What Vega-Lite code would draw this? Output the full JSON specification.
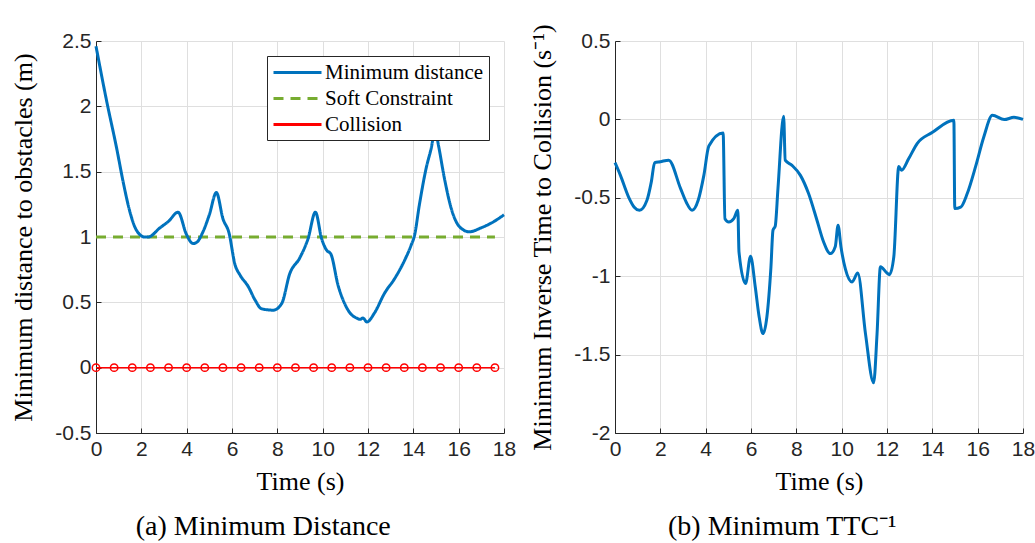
{
  "$schema": "https://vega.github.io/schema/vega-lite/v6.json",
  "background": "white",
  "padding": {"left": 10, "top": 23, "right": 5, "bottom": 0},
  "spacing": 13,
  "resolve": {"legend": {"color": "independent", "strokeDash": "independent"}, "scale": {"color": "independent", "strokeDash": "independent"}},
  "config": {
    "view": {"stroke": null},
    "axis": {
      "domainColor": "#262626",
      "domainWidth": 1,
      "tickColor": "#262626",
      "tickSize": -5,
      "gridColor": "#dfdfdf",
      "gridWidth": 1,
      "labelFont": "Liberation Sans",
      "labelFontSize": 21,
      "labelColor": "#262626",
      "labelPadding": 10,
      "labelFlush": false,
      "labelOverlap": false,
      "titleFont": "Liberation Serif",
      "titleFontSize": 26,
      "titleFontWeight": "normal",
      "titleColor": "#000000",
      "titlePadding": 18
    },
    "axisX": {"titlePadding": 9},
    "legend": {
      "orient": "top-right",
      "offset": 15,
      "fillColor": "white",
      "strokeColor": "#262626",
      "padding": 5,
      "labelFont": "Liberation Serif",
      "labelFontSize": 21,
      "labelColor": "#000000",
      "labelLimit": 400,
      "labelOffset": 16,
      "symbolType": "M-2.4,0H2.4",
      "symbolSize": 400,
      "symbolOffset": 14,
      "symbolStrokeWidth": 3,
      "rowPadding": 4,
      "title": null
    },
    "title": {
      "font": "Liberation Serif",
      "fontSize": 28,
      "fontWeight": "normal",
      "color": "#000000"
    }
  },
  "datasets": {
    "dist": [
      {"t": 0, "v": 2.46, "series": "Minimum distance"},
      {"t": 0.47, "v": 2.04, "series": "Minimum distance"},
      {"t": 0.91, "v": 1.68, "series": "Minimum distance"},
      {"t": 1.2, "v": 1.42, "series": "Minimum distance"},
      {"t": 1.5, "v": 1.19, "series": "Minimum distance"},
      {"t": 1.79, "v": 1.05, "series": "Minimum distance"},
      {"t": 2.15, "v": 1.0, "series": "Minimum distance"},
      {"t": 2.3, "v": 1.0, "series": "Minimum distance"},
      {"t": 2.82, "v": 1.07, "series": "Minimum distance"},
      {"t": 3.2, "v": 1.12, "series": "Minimum distance"},
      {"t": 3.62, "v": 1.19, "series": "Minimum distance"},
      {"t": 3.99, "v": 1.02, "series": "Minimum distance"},
      {"t": 4.28, "v": 0.95, "series": "Minimum distance"},
      {"t": 4.45, "v": 0.96, "series": "Minimum distance"},
      {"t": 4.72, "v": 1.04, "series": "Minimum distance"},
      {"t": 5.0, "v": 1.17, "series": "Minimum distance"},
      {"t": 5.31, "v": 1.34, "series": "Minimum distance"},
      {"t": 5.6, "v": 1.14, "series": "Minimum distance"},
      {"t": 5.87, "v": 1.03, "series": "Minimum distance"},
      {"t": 6.13, "v": 0.79, "series": "Minimum distance"},
      {"t": 6.35, "v": 0.71, "series": "Minimum distance"},
      {"t": 6.72, "v": 0.62, "series": "Minimum distance"},
      {"t": 7.01, "v": 0.52, "series": "Minimum distance"},
      {"t": 7.31, "v": 0.45, "series": "Minimum distance"},
      {"t": 7.82, "v": 0.44, "series": "Minimum distance"},
      {"t": 8.19, "v": 0.49, "series": "Minimum distance"},
      {"t": 8.55, "v": 0.72, "series": "Minimum distance"},
      {"t": 8.99, "v": 0.84, "series": "Minimum distance"},
      {"t": 9.36, "v": 0.99, "series": "Minimum distance"},
      {"t": 9.68, "v": 1.19, "series": "Minimum distance"},
      {"t": 9.95, "v": 0.99, "series": "Minimum distance"},
      {"t": 10.17, "v": 0.9, "series": "Minimum distance"},
      {"t": 10.36, "v": 0.87, "series": "Minimum distance"},
      {"t": 10.68, "v": 0.63, "series": "Minimum distance"},
      {"t": 10.97, "v": 0.49, "series": "Minimum distance"},
      {"t": 11.2, "v": 0.42, "series": "Minimum distance"},
      {"t": 11.49, "v": 0.38, "series": "Minimum distance"},
      {"t": 11.65, "v": 0.37, "series": "Minimum distance"},
      {"t": 11.78, "v": 0.38, "series": "Minimum distance"},
      {"t": 11.95, "v": 0.35, "series": "Minimum distance"},
      {"t": 12.29, "v": 0.42, "series": "Minimum distance"},
      {"t": 12.73, "v": 0.57, "series": "Minimum distance"},
      {"t": 13.17, "v": 0.68, "series": "Minimum distance"},
      {"t": 13.61, "v": 0.82, "series": "Minimum distance"},
      {"t": 13.91, "v": 0.94, "series": "Minimum distance"},
      {"t": 14.05, "v": 1.01, "series": "Minimum distance"},
      {"t": 14.27, "v": 1.25, "series": "Minimum distance"},
      {"t": 14.57, "v": 1.53, "series": "Minimum distance"},
      {"t": 14.79, "v": 1.68, "series": "Minimum distance"},
      {"t": 14.96, "v": 1.82, "series": "Minimum distance"},
      {"t": 15.11, "v": 1.7, "series": "Minimum distance"},
      {"t": 15.37, "v": 1.45, "series": "Minimum distance"},
      {"t": 15.67, "v": 1.22, "series": "Minimum distance"},
      {"t": 16.03, "v": 1.08, "series": "Minimum distance"},
      {"t": 16.47, "v": 1.04, "series": "Minimum distance"},
      {"t": 16.99, "v": 1.07, "series": "Minimum distance"},
      {"t": 17.57, "v": 1.12, "series": "Minimum distance"},
      {"t": 18.0, "v": 1.17, "series": "Minimum distance"}
    ],
    "soft": [
      {"t": 0, "v": 1, "series": "Soft Constraint"},
      {"t": 17.6, "v": 1, "series": "Soft Constraint"}
    ],
    "coll": [
      {"t": 0, "v": 0, "series": "Collision"},
      {"t": 0.8, "v": 0, "series": "Collision"},
      {"t": 1.6, "v": 0, "series": "Collision"},
      {"t": 2.4, "v": 0, "series": "Collision"},
      {"t": 3.2, "v": 0, "series": "Collision"},
      {"t": 4.0, "v": 0, "series": "Collision"},
      {"t": 4.8, "v": 0, "series": "Collision"},
      {"t": 5.6, "v": 0, "series": "Collision"},
      {"t": 6.4, "v": 0, "series": "Collision"},
      {"t": 7.2, "v": 0, "series": "Collision"},
      {"t": 8.0, "v": 0, "series": "Collision"},
      {"t": 8.8, "v": 0, "series": "Collision"},
      {"t": 9.6, "v": 0, "series": "Collision"},
      {"t": 10.4, "v": 0, "series": "Collision"},
      {"t": 11.2, "v": 0, "series": "Collision"},
      {"t": 12.0, "v": 0, "series": "Collision"},
      {"t": 12.8, "v": 0, "series": "Collision"},
      {"t": 13.6, "v": 0, "series": "Collision"},
      {"t": 14.4, "v": 0, "series": "Collision"},
      {"t": 15.2, "v": 0, "series": "Collision"},
      {"t": 16.0, "v": 0, "series": "Collision"},
      {"t": 16.8, "v": 0, "series": "Collision"},
      {"t": 17.6, "v": 0, "series": "Collision"}
    ],
    "ttc": [
      {"t": 0, "v": -0.276},
      {"t": 0.24, "v": -0.357},
      {"t": 0.6, "v": -0.495},
      {"t": 0.85, "v": -0.56},
      {"t": 1.08, "v": -0.58},
      {"t": 1.41, "v": -0.516},
      {"t": 1.6, "v": -0.4},
      {"t": 1.75, "v": -0.276},
      {"t": 2.0, "v": -0.27},
      {"t": 2.37, "v": -0.26},
      {"t": 2.89, "v": -0.44},
      {"t": 3.15, "v": -0.53},
      {"t": 3.4, "v": -0.58},
      {"t": 3.67, "v": -0.516},
      {"t": 3.92, "v": -0.357},
      {"t": 4.14, "v": -0.17},
      {"t": 4.77, "v": -0.087},
      {"t": 4.85, "v": -0.633},
      {"t": 5.02, "v": -0.654},
      {"t": 5.24, "v": -0.633},
      {"t": 5.42, "v": -0.58},
      {"t": 5.47, "v": -0.845},
      {"t": 5.76, "v": -1.047},
      {"t": 5.98, "v": -0.873},
      {"t": 6.19, "v": -1.07},
      {"t": 6.35, "v": -1.25},
      {"t": 6.53, "v": -1.366},
      {"t": 6.7, "v": -1.26},
      {"t": 6.88, "v": -0.94},
      {"t": 6.97, "v": -0.707},
      {"t": 7.07, "v": -0.68},
      {"t": 7.19, "v": -0.44},
      {"t": 7.44, "v": 0.02},
      {"t": 7.51, "v": -0.26},
      {"t": 7.81, "v": -0.293},
      {"t": 8.18, "v": -0.357},
      {"t": 8.54, "v": -0.473},
      {"t": 8.91, "v": -0.643},
      {"t": 9.2, "v": -0.78},
      {"t": 9.5, "v": -0.856},
      {"t": 9.72, "v": -0.81},
      {"t": 9.84, "v": -0.675},
      {"t": 9.97, "v": -0.814},
      {"t": 10.16, "v": -0.952},
      {"t": 10.46, "v": -1.037},
      {"t": 10.71, "v": -0.98},
      {"t": 11.05, "v": -1.366},
      {"t": 11.41, "v": -1.68},
      {"t": 11.56, "v": -1.37},
      {"t": 11.71, "v": -0.94},
      {"t": 12.0, "v": -0.98},
      {"t": 12.11, "v": -0.99},
      {"t": 12.3, "v": -0.877},
      {"t": 12.52, "v": -0.3},
      {"t": 12.64, "v": -0.325},
      {"t": 12.96, "v": -0.25},
      {"t": 13.33, "v": -0.154},
      {"t": 13.99, "v": -0.084},
      {"t": 14.95, "v": -0.006},
      {"t": 14.99, "v": -0.569},
      {"t": 15.25, "v": -0.56},
      {"t": 15.54, "v": -0.473},
      {"t": 15.91, "v": -0.3},
      {"t": 16.27, "v": -0.112},
      {"t": 16.65, "v": 0.026},
      {"t": 17.17, "v": -0.001},
      {"t": 17.6, "v": 0.013},
      {"t": 18.0, "v": 0.0}
    ]
  },
  "hconcat": [
    {
      "width": 408,
      "height": 392,
      "title": {"text": "(a) Minimum Distance", "orient": "bottom", "frame": "bounds", "anchor": "middle", "offset": 19},
      "encoding": {
        "x": {
          "field": "t", "type": "quantitative",
          "scale": {"domain": [0, 18], "nice": false},
          "axis": {"values": [0, 2, 4, 6, 8, 10, 12, 14, 16, 18], "title": "Time (s)", "labelExpr": "toString(datum.value)"}
        },
        "y": {
          "field": "v", "type": "quantitative",
          "scale": {"domain": [-0.5, 2.5], "nice": false, "zero": false},
          "axis": {"values": [-0.5, 0, 0.5, 1, 1.5, 2, 2.5], "title": "Minimum distance to obstacles (m)", "labelExpr": "toString(datum.value)"}
        }
      },
      "layer": [
        {
          "data": {"name": "soft"},
          "mark": {"type": "line", "strokeWidth": 3},
          "encoding": {
            "color": {"field": "series", "type": "nominal", "scale": {"domain": ["Minimum distance", "Soft Constraint", "Collision"], "range": ["#0072BD", "#77AC30", "#FF0000"]}},
            "strokeDash": {"field": "series", "type": "nominal", "scale": {"domain": ["Minimum distance", "Soft Constraint", "Collision"], "range": [[1, 0], [10, 7], [1, 0]]}}
          }
        },
        {
          "data": {"name": "coll"},
          "mark": {"type": "line", "strokeWidth": 1.5},
          "encoding": {
            "color": {"field": "series", "type": "nominal"},
            "strokeDash": {"field": "series", "type": "nominal"}
          }
        },
        {
          "data": {"name": "coll"},
          "mark": {"type": "point", "shape": "circle", "filled": false, "color": "#FF0000", "size": 55, "strokeWidth": 1.5, "opacity": 1}
        },
        {
          "data": {"name": "dist"},
          "mark": {"type": "line", "strokeWidth": 3, "interpolate": "monotone"},
          "encoding": {
            "color": {"field": "series", "type": "nominal"},
            "strokeDash": {"field": "series", "type": "nominal"}
          }
        }
      ]
    },
    {
      "width": 408,
      "height": 392,
      "title": {"text": "(b) Minimum TTC⁻¹", "orient": "bottom", "frame": "bounds", "anchor": "middle", "offset": 19},
      "data": {"name": "ttc"},
      "mark": {"type": "line", "strokeWidth": 3, "color": "#0072BD", "interpolate": "monotone"},
      "encoding": {
        "x": {
          "field": "t", "type": "quantitative",
          "scale": {"domain": [0, 18], "nice": false},
          "axis": {"values": [0, 2, 4, 6, 8, 10, 12, 14, 16, 18], "title": "Time (s)", "labelExpr": "toString(datum.value)"}
        },
        "y": {
          "field": "v", "type": "quantitative",
          "scale": {"domain": [-2, 0.5], "nice": false, "zero": false},
          "axis": {"values": [-2, -1.5, -1, -0.5, 0, 0.5], "title": "Minimum Inverse Time to Collision (s⁻¹)", "labelExpr": "toString(datum.value)"}
        }
      }
    }
  ]
}
